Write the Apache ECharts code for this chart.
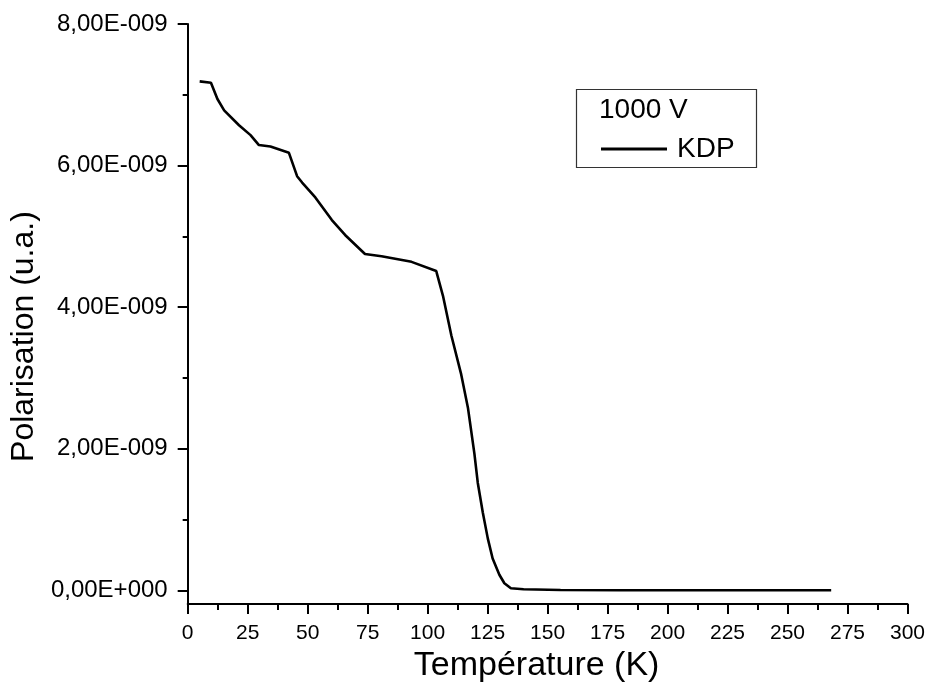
<!DOCTYPE html>
<html>
<head>
<meta charset="utf-8">
<script src="https://cdn.jsdelivr.net/npm/echarts@6/dist/echarts.min.js"></script>
<style>
html,body{margin:0;padding:0;background:#fff;}
#c{width:928px;height:688px;}
</style>
</head>
<body>
<div id="c"></div>
<script>
var temperature = [5, 9.7, 12.4, 15.2, 21.4, 26.2, 29.7, 34.5, 42.2, 45.6, 47.7, 53.2, 60.1, 65.6, 73.9, 80.8, 93.3, 103.6, 106.4, 109.9, 114.0, 116.8, 119.5, 120.9, 123.0, 125.1, 127.1, 129.9, 132, 134.7, 140, 155.4, 180, 210, 240, 268.2];
var polarisation = [7.19e-9, 7.17e-9, 6.94e-9, 6.78e-9, 6.57e-9, 6.43e-9, 6.29e-9, 6.27e-9, 6.18e-9, 5.85e-9, 5.76e-9, 5.55e-9, 5.23e-9, 5.02e-9, 4.75e-9, 4.72e-9, 4.64e-9, 4.51e-9, 4.16e-9, 3.60e-9, 3.05e-9, 2.58e-9, 1.93e-9, 1.52e-9, 1.10e-9, 0.73e-9, 0.45e-9, 0.22e-9, 0.10e-9, 0.03e-9, 0.015e-9, 0.005e-9, 0, 0, 0, 0];
var yMajorTicks = [0, 2e-9, 4e-9, 6e-9, 8e-9];
var yMinorTicks = [1e-9, 3e-9, 5e-9, 7e-9];
var seriesName = 'KDP';
var legendTitle = '1000 V';
var xTitle = 'Température (K)';
var yTitle = 'Polarisation (u.a.)';

function sci(v) {
  if (Math.abs(v) < 1e-20) return '0,00E+000';
  var e = Math.floor(Math.log10(Math.abs(v)) + 1e-9);
  var m = v / Math.pow(10, e);
  var s = m.toFixed(2).replace('.', ',');
  var sign = e < 0 ? '-' : '+';
  var ea = String(Math.abs(e));
  while (ea.length < 3) ea = '0' + ea;
  return s + 'E' + sign + ea;
}

var data = temperature.map(function (t, i) { return [t, polarisation[i]]; });
var font = '"Liberation Sans", Arial, sans-serif';
var chart = echarts.init(document.getElementById('c'), null, {renderer: 'canvas'});
chart.setOption({
  animation: false,
  backgroundColor: '#fff',
  grid: {left: 185, right: 19.3, top: 24, bottom: 75, containLabel: false},
  xAxis: {
    type: 'value', min: 0, max: 300, interval: 25,
    name: xTitle, nameLocation: 'middle', nameGap: 34,
    nameTextStyle: {fontSize: 34, color: '#000', fontFamily: font, padding: [0, 22, 0, 0]},
    axisLine: {show: true, onZero: false, lineStyle: {color: '#000', width: 2}},
    axisTick: {show: true, length: 10, lineStyle: {color: '#000', width: 2}},
    minorTick: {show: true, splitNumber: 2, length: 6, lineStyle: {color: '#000', width: 2}},
    axisLabel: {fontSize: 21, color: '#000', fontFamily: font, margin: 19},
    splitLine: {show: false}, minorSplitLine: {show: false}
  },
  yAxis: [{
    type: 'value', min: -0.195e-9, max: 8e-9, position: 'left', offset: 0,
    name: yTitle, nameLocation: 'middle', nameGap: 142,
    nameTextStyle: {fontSize: 32, color: '#000', fontFamily: font, padding: [0, 45, 0, 0]},
    axisLine: {show: true, onZero: false, lineStyle: {color: '#000', width: 2}},
    axisTick: {show: true, length: 10, customValues: yMajorTicks, lineStyle: {color: '#000', width: 2}},
    axisLabel: {fontSize: 24, color: '#000', fontFamily: font, margin: 20, customValues: yMajorTicks, formatter: sci},
    splitLine: {show: false}
  }, {
    type: 'value', min: -0.195e-9, max: 8e-9, position: 'left', offset: 0,
    axisLine: {show: false},
    axisTick: {show: true, length: 5, customValues: yMinorTicks, lineStyle: {color: '#000', width: 2}},
    axisLabel: {show: false, customValues: yMinorTicks},
    splitLine: {show: false}
  }],
  legend: {
    show: true, left: 596, top: 130, itemWidth: 66, itemHeight: 3, itemGap: 10,
    icon: 'rect',
    textStyle: {fontSize: 28, color: '#000', fontFamily: font, padding: [0, 0, 0, 5]},
    data: [{name: seriesName, itemStyle: {color: '#000'}}]
  },
  graphic: [
    {type: 'rect', left: 574, top: 87, shape: {width: 180, height: 78}, style: {fill: 'none', stroke: '#333', lineWidth: 1.2}, z: 10},
    {type: 'text', left: 599, top: 96, style: {text: legendTitle, fontSize: 28, fontFamily: font, fill: '#000'}, z: 10}
  ],
  series: [{
    name: seriesName, type: 'line', data: data, yAxisIndex: 0,
    showSymbol: false, symbol: 'none', smooth: false,
    lineStyle: {color: '#000', width: 2.6}, itemStyle: {color: '#000'}
  }]
});
</script>
</body>
</html>
